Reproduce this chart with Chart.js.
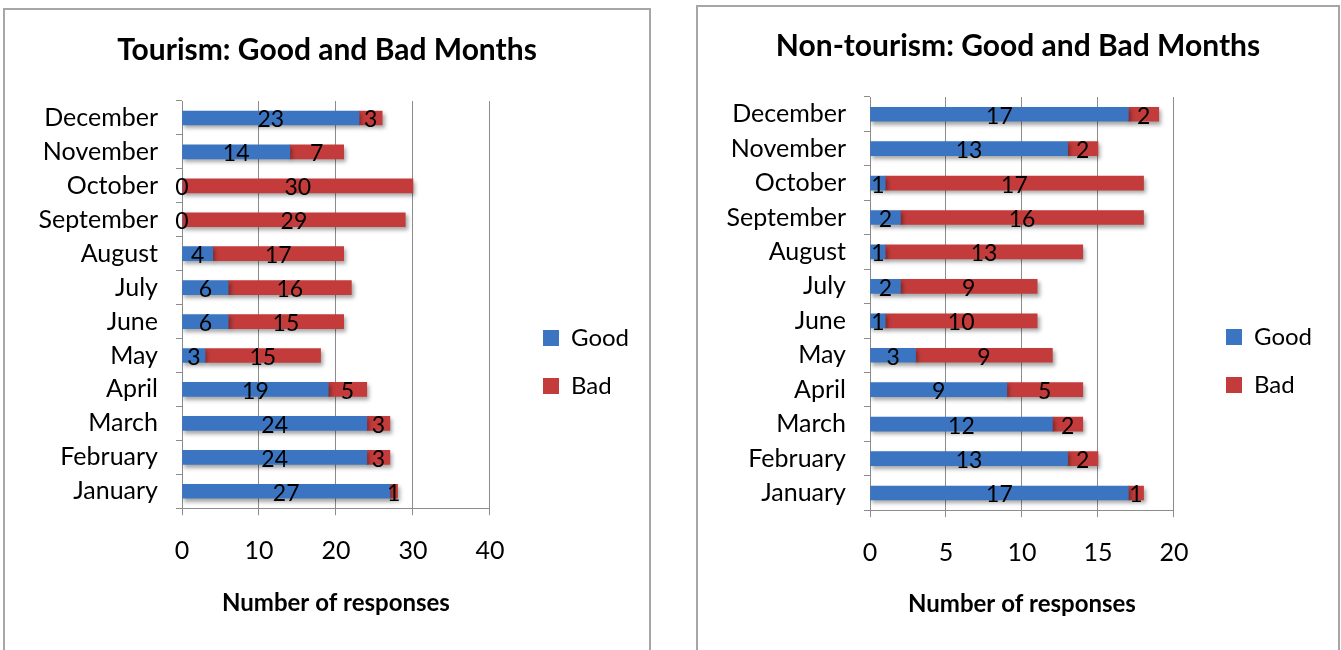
<!DOCTYPE html>
<html>
<head>
<meta charset="utf-8">
<script src="https://cdn.jsdelivr.net/npm/chart.js@4"></script>
<style>
  body { margin: 0; background: #fff; width: 1341px; height: 650px; overflow: hidden; position: relative; }
  .box { position: absolute; border: 2px solid #a6a6a6; border-bottom: none; background: #fff; }
  #boxTour { left: 3px; top: 8px; width: 644px; height: 650px; }
  #boxNon { left: 696px; top: 5px; width: 640px; height: 650px; }
  canvas { display: block; }
</style>
</head>
<body>
<div class="box" id="boxTour"><canvas id="tourism" width="644" height="640"></canvas></div>
<div class="box" id="boxNon"><canvas id="nontourism" width="640" height="643"></canvas></div>
<script>
// months, January first (axis is reversed so December sits on top)
const months = ["January", "February", "March", "April", "May", "June",
  "July", "August", "September", "October", "November", "December"]

// Tourism
const tourGood = [27, 24, 24, 19, 3, 6, 6, 4, 0, 0, 14, 23]
const tourBad = [1, 3, 3, 5, 15, 15, 16, 17, 29, 30, 7, 3]
const tourTicks = [0, 10, 20, 30, 40]

// Non-tourism
const nonGood = [17, 13, 12, 9, 3, 1, 2, 1, 2, 1, 13, 17]
const nonBad = [1, 2, 2, 5, 9, 10, 9, 13, 16, 17, 2, 2]
const nonTicks = [0, 5, 10, 15, 20]

const FONT = "Lato, 'Open Sans', sans-serif"
const BLUE = '#3b74c1'
const RED = '#c33c3b'

// number in the middle of each bar piece
const barLabels = {
  id: 'barLabels',
  afterDatasetsDraw(chart) {
    const ctx = chart.ctx
    ctx.save()
    ctx.font = '23px ' + FONT
    ctx.fillStyle = '#000'
    ctx.textAlign = 'center'
    ctx.textBaseline = 'middle'
    chart.data.datasets.forEach((ds, i) => {
      chart.getDatasetMeta(i).data.forEach((bar, j) => {
        const x = (bar.x + bar.base) / 2
        ctx.fillText(ds.data[j], x, bar.y + 2)
      })
    })
    ctx.restore()
  }
}

// soft shadow under bars
const barShadow = {
  id: 'barShadow',
  beforeDatasetsDraw(chart) {
    chart.ctx.save()
    chart.ctx.shadowColor = 'rgba(0,0,0,0.35)'
    chart.ctx.shadowBlur = 4
    chart.ctx.shadowOffsetX = 2
    chart.ctx.shadowOffsetY = 3
  },
  afterDatasetsDraw(chart) {
    chart.ctx.restore()
  }
}

// put the legend where the original one sits, and centre the title on the whole box
const boxSpots = {
  id: 'boxSpots',
  afterLayout(chart, args, opts) {
    const lg = chart.legend
    const w = lg.right - lg.left
    lg.left = opts.left
    lg.right = opts.left + w
    lg.top += opts.dy
    lg.bottom += opts.dy
    chart.titleBlock.left = 0
    chart.titleBlock.right = chart.width
  }
}

function makeChart(canvas, title, good, bad, ticks, cfg) {
  const ctx = canvas.getContext('2d')
  return new Chart(ctx, {
    type: 'bar',
    data: {
      labels: months,
      datasets: [
        { label: 'Good', data: good, backgroundColor: BLUE, barThickness: 14 },
        { label: 'Bad', data: bad, backgroundColor: RED, barThickness: 14 }
      ]
    },
    options: {
      indexAxis: 'y',
      responsive: false,
      animation: false,
      layout: { padding: { left: 0, right: cfg.padRight, bottom: cfg.padBottom } },
      plugins: {
        title: {
          display: true,
          text: title,
          color: '#000',
          font: { family: FONT, size: 30, weight: 'bold' },
          padding: { top: cfg.titleTop, bottom: 33 }
        },
        legend: {
          display: true,
          position: 'right',
          labels: {
            color: '#000',
            font: { family: FONT, size: 24 },
            boxWidth: 16,
            boxHeight: 16,
            padding: 24
          }
        },
        boxSpots: { left: cfg.legendLeft, dy: cfg.legendDy },
        tooltip: { enabled: false }
      },
      scales: {
        x: {
          stacked: true,
          min: ticks[0],
          max: ticks[ticks.length - 1],
          afterBuildTicks(axis) { axis.ticks = ticks.map(v => ({ value: v })) },
          grid: { color: '#8c8c8c', lineWidth: 1, tickLength: 7 },
          border: { color: '#8c8c8c' },
          ticks: { color: '#000', font: { family: FONT, size: 25 }, padding: 21 },
          title: {
            display: true,
            text: 'Number of responses',
            color: '#000',
            font: { family: FONT, size: 24, weight: 'bold' },
            padding: { top: cfg.axisTitleTop }
          }
        },
        y: {
          stacked: true,
          reverse: true,
          afterFit(axis) { axis.width = cfg.yWidth },
          grid: { drawOnChartArea: false, color: '#8c8c8c', tickLength: 6, offset: true },
          border: { color: '#8c8c8c' },
          ticks: { color: '#000', font: { family: FONT, size: 25 }, padding: 18, autoSkip: false }
        }
      }
    },
    plugins: [barShadow, barLabels, boxSpots]
  })
}

makeChart(document.getElementById('tourism'), 'Tourism: Good and Bad Months',
  tourGood, tourBad, tourTicks,
  { yWidth: 177, padRight: 39, padBottom: 28, titleTop: 22, axisTitleTop: 2, legendLeft: 514, legendDy: 46 })
makeChart(document.getElementById('nontourism'), 'Non-tourism: Good and Bad Months',
  nonGood, nonBad, nonTicks,
  { yWidth: 172, padRight: 44, padBottom: 27, titleTop: 21, axisTitleTop: 1, legendLeft: 504, legendDy: 46 })
</script>
</body>
</html>
